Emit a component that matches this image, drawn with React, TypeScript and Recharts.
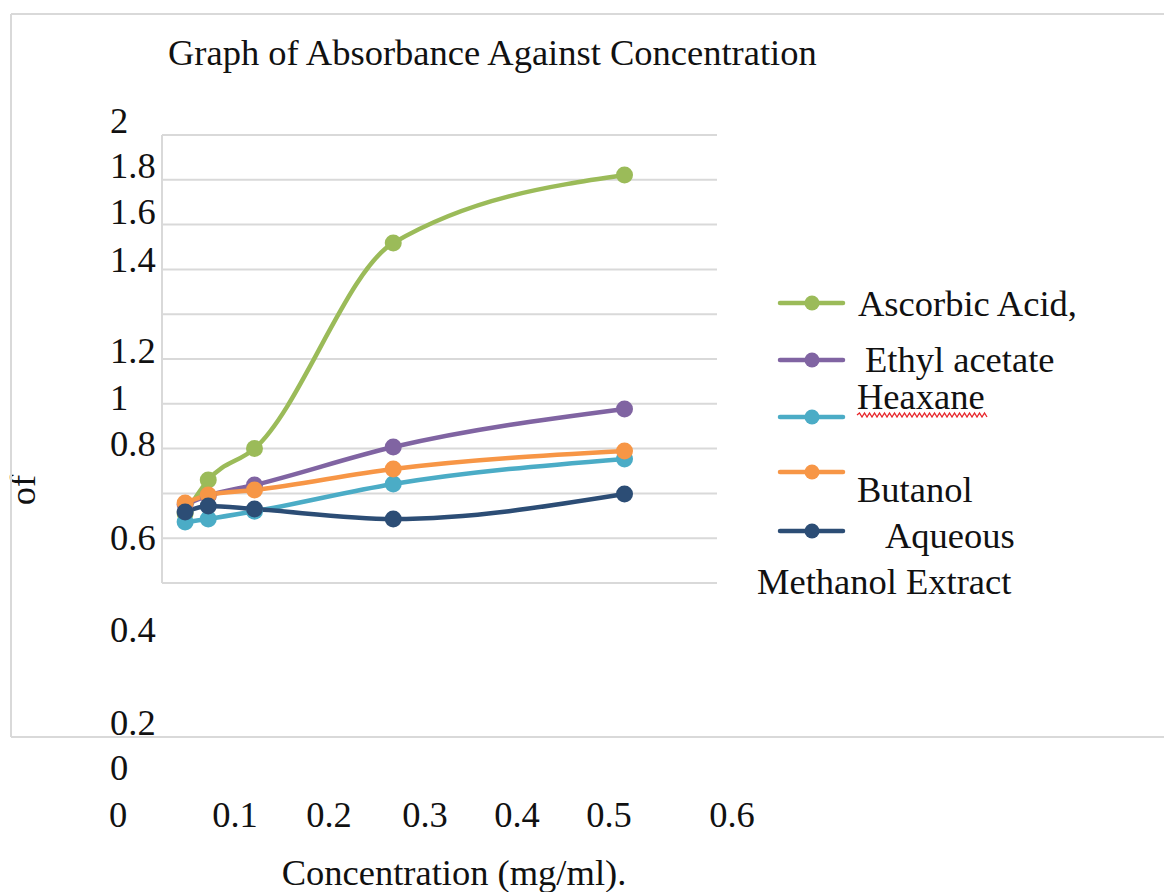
import React from 'react';
import { LineChart, Line, XAxis, YAxis, CartesianGrid, Legend, Label } from 'recharts';

// ---- data ----
const concentration = [0.025, 0.05, 0.1, 0.25, 0.5];
const ascorbicAcid = [0.31, 0.46, 0.6, 1.518, 1.821];
const ethylAcetate = [0.35, 0.39, 0.4375, 0.607, 0.777];
const heaxane = [0.272, 0.286, 0.32, 0.442, 0.554];
const butanol = [0.357, 0.393, 0.415, 0.509, 0.589];
const aqueousMethanol = [0.317, 0.344, 0.33, 0.286, 0.397];

const xTicks = [0, 0.1, 0.2, 0.3, 0.4, 0.5, 0.6];
const xTickLabels = ['0', '0.1', '0.2', '0.3', '0.4', '0.5', '0.6'];
const yTicks = [0, 0.2, 0.4, 0.6, 0.8, 1, 1.2, 1.4, 1.6, 1.8, 2];
const yTickLabels = ['0', '0.2', '0.4', '0.6', '0.8', '1', '1.2', '1.4', '1.6', '1.8', '2'];

const seriesKeys = ['ascorbic', 'ethyl', 'heaxane', 'butanol', 'aqueous'];
const seriesNames = ['Ascorbic Acid,', ' Ethyl acetate', 'Heaxane', 'Butanol', 'Aqueous Methanol Extract'];
const seriesValues = [ascorbicAcid, ethylAcetate, heaxane, butanol, aqueousMethanol];
const seriesColors = ['#9BBB59', '#8064A2', '#4BACC6', '#F79646', '#2C4D75'];

const chartTitle = 'Graph of Absorbance Against Concentration';
const xAxisTitle = 'Concentration (mg/ml).';
const yAxisTitle = 'of';

const data = concentration.map((x, i) => {
  const row: Record<string, number> = { x };
  seriesKeys.forEach((k, s) => {
    row[k] = seriesValues[s][i];
  });
  return row;
});

// ---- layout / style ----
const W = 1164;
const H = 892;
const FONT = '"Liberation Serif", "Times New Roman", serif';
const FS = 36.5;
const TEXT = '#111111';
const GRID = '#d9d9d9';

// the reference's tick labels are displaced from their gridlines
const yTickBaselineShift = [197, 196.8, 148.6, 101.4, 52.2, 51, 48.8, 2.1, -0.6, -1.8, -2];
const xTickCenterShift = [-44, -19.5, -18, -14.5, -15, -15.5, 15];
const Y_LABEL_X = 110;
const X_LABEL_BASELINE = 827;

const legendIconYs = [303, 360, 417, 472, 531];
const legendTextPos: number[][][] = [
  [[858, 316]],
  [[865, 372]],
  [[857, 409]],
  [[857, 502]],
  [[885, 548], [757, 594]],
];

const YTick = (props: any) => {
  const { y, payload } = props;
  const i = yTicks.indexOf(payload.value);
  return (
    <text x={Y_LABEL_X} y={y + yTickBaselineShift[i]} textAnchor="start" fontFamily={FONT} fontSize={FS} fill={TEXT}>
      {yTickLabels[i]}
    </text>
  );
};

const XTick = (props: any) => {
  const { x, payload } = props;
  const i = xTicks.indexOf(payload.value);
  return (
    <text x={x + xTickCenterShift[i]} y={X_LABEL_BASELINE} textAnchor="middle" fontFamily={FONT} fontSize={FS} fill={TEXT}>
      {xTickLabels[i]}
    </text>
  );
};

const squigglePath = (() => {
  const x0 = 857;
  const x1 = 988;
  const yc = 415;
  let d = `M ${x0} ${yc}`;
  let up = true;
  for (let x = x0 + 2.5; x <= x1; x += 2.5) {
    d += ` L ${x} ${yc + (up ? -2 : 2)}`;
    up = !up;
  }
  return d;
})();

const LegendOverlay = (props: any) => {
  const payload: any[] = props.payload || [];
  const byKey: Record<string, any> = {};
  payload.forEach((p) => {
    byKey[p.dataKey] = p;
  });
  return (
    <svg width={W} height={H} style={{ position: 'absolute', left: 0, top: 0, overflow: 'visible' }}>
      {/* outer chart frame */}
      <line x1={11} y1={14} x2={11} y2={737} stroke={GRID} strokeWidth={2} />
      <line x1={11} y1={14} x2={W} y2={14} stroke={GRID} strokeWidth={2} />
      <line x1={11} y1={737} x2={W} y2={737} stroke={GRID} strokeWidth={2} />
      <text x={168} y={65} fontFamily={FONT} fontSize={FS} fill={TEXT}>
        {chartTitle}
      </text>
      {seriesKeys.map((k, s) => {
        const item = byKey[k];
        const color = item ? item.color : seriesColors[s];
        const name = (item ? String(item.value) : seriesNames[s]).trim();
        const pos = legendTextPos[s];
        const lines =
          pos.length > 1 ? [name.slice(0, name.indexOf(' ')), name.slice(name.indexOf(' ') + 1)] : [name];
        const iy = legendIconYs[s];
        return (
          <g key={k}>
            <line x1={780} y1={iy} x2={843} y2={iy} stroke={color} strokeWidth={4.5} strokeLinecap="round" />
            <circle cx={812} cy={iy} r={7.5} fill={color} />
            {lines.map((t, j) => (
              <text key={j} x={pos[j][0]} y={pos[j][1]} fontFamily={FONT} fontSize={FS} fill={TEXT}>
                {t}
              </text>
            ))}
          </g>
        );
      })}
      <path d={squigglePath} fill="none" stroke="#e8262a" strokeWidth={1.3} />
    </svg>
  );
};

const YTitle = () => (
  <text
    x={22}
    y={490}
    transform="rotate(-90, 22, 490)"
    textAnchor="middle"
    dominantBaseline="central"
    fontFamily={FONT}
    fontSize={FS}
    fill={TEXT}
  >
    {yAxisTitle}
  </text>
);

const XTitle = () => (
  <text x={454} y={885} textAnchor="middle" fontFamily={FONT} fontSize={FS} fill={TEXT}>
    {xAxisTitle}
  </text>
);

export default function App() {
  return (
    <div style={{ width: W, height: H, position: 'relative', background: '#fff' }}>
      <style>{'body{margin:0;overflow:hidden;background:#fff}'}</style>
      <LineChart
        width={W}
        height={H}
        data={data}
        margin={{ top: 135, right: 447, bottom: 279, left: 102 }}
      >
        <CartesianGrid vertical={false} stroke={GRID} strokeWidth={2} />
        <XAxis
          type="number"
          dataKey="x"
          domain={[0, 0.6]}
          ticks={xTicks}
          height={30}
          axisLine={{ stroke: GRID, strokeWidth: 2 }}
          tickLine={false}
          tick={<XTick />}
          interval={0}
          allowDataOverflow
        >
          <Label content={<XTitle />} />
        </XAxis>
        <YAxis
          type="number"
          domain={[0, 2]}
          ticks={yTicks}
          width={60}
          axisLine={{ stroke: GRID, strokeWidth: 2 }}
          tickLine={false}
          tick={<YTick />}
          interval={0}
        >
          <Label content={<YTitle />} />
        </YAxis>
        <Legend
          layout="vertical"
          align="center"
          verticalAlign="middle"
          content={<LegendOverlay />}
          wrapperStyle={{ left: 0, top: 0, right: 'auto', bottom: 'auto', width: W, height: H, pointerEvents: 'none' }}
        />
        {seriesKeys.map((k, s) => (
          <Line
            key={k}
            type="monotone"
            dataKey={k}
            name={seriesNames[s]}
            stroke={seriesColors[s]}
            strokeWidth={4.5}
            dot={{ r: 8.5, fill: seriesColors[s], stroke: 'none' }}
            activeDot={false}
            isAnimationActive={false}
          />
        ))}
      </LineChart>
    </div>
  );
}
